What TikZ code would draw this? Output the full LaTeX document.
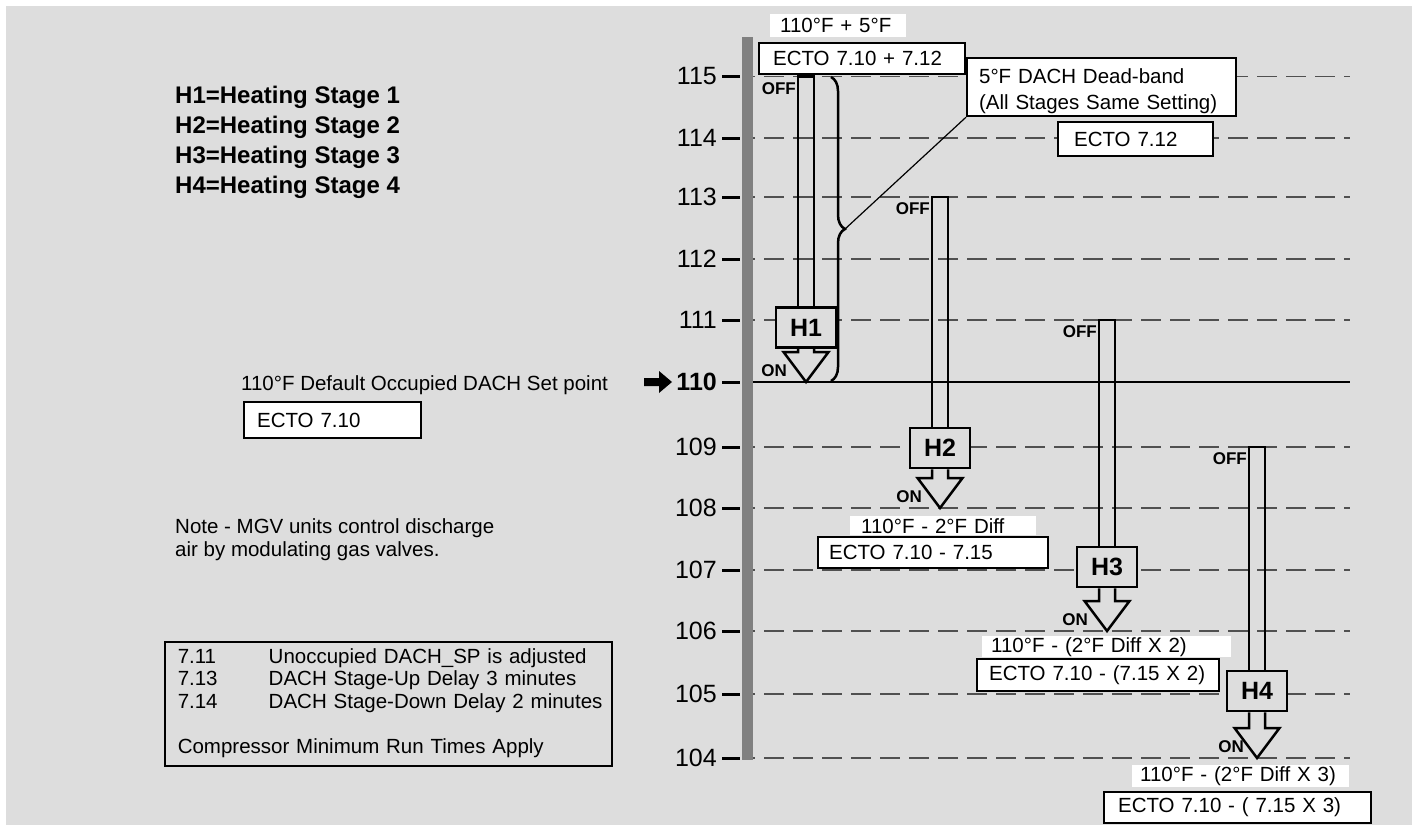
\documentclass[tikz,border=0pt]{standalone}
\usepackage{fontspec}
\setmainfont{Liberation Sans}
\usetikzlibrary{decorations.pathreplacing,calc}
\definecolor{bgc}{HTML}{DDDDDD}
\definecolor{barc}{HTML}{808080}
\definecolor{dashc}{HTML}{505050}
\newcommand\mylbl{\fontsize{20.5}{26}\selectfont}
\newcommand\myleg{\fontsize{24}{28}\selectfont\bfseries}
\newcommand\mytick{\fontsize{25}{28}\selectfont}
\newcommand\myhb{\fontsize{25}{28}\selectfont\bfseries}
\newcommand\myon{\fontsize{17}{20}\selectfont\bfseries}
\begin{document}
\begin{tikzpicture}[x=1pt,y=-1pt,
 lbl/.style={font=\mylbl, inner sep=0pt, anchor=base west},
 ecto/.style={draw=black, line width=2.2pt, fill=white, font=\mylbl, inner ysep=0pt, align=left, anchor=north west},
 wlbl/.style={fill=white, font=\mylbl, inner ysep=0pt, align=left, anchor=north west},
 hbox/.style={draw=black, line width=2.5pt, fill=bgc, font=\myhb, minimum width=60pt, minimum height=40pt, inner sep=0pt},
 arr/.style={draw=black, line width=2.5pt, line join=miter},
 onoff/.style={font=\myon, inner sep=0pt, anchor=east},
 tickl/.style={font=\mytick, inner sep=0pt, anchor=east},
 tickm/.style={line width=3pt, black},
 gridl/.style={dashc, line width=1.3pt, dash pattern=on 20pt off 9pt, dash phase=18pt},
 brc/.style={decorate, decoration={brace, amplitude=14pt, aspect=0.5}, line width=2.5pt},
 leader/.style={line width=1.2pt},
]
\useasboundingbox (0,0) rectangle (1418,830);
\fill[white] (0,0) rectangle (1418,830);
\fill[bgc] (6,6) rectangle (1412,825);

% grid lines
\foreach \v/\y in {115/76.5,114/138,113/197,112/259,111/320,109/447,108/508,107/570,106/631,105/694,104/758}{
  \draw[gridl] (753,\y) -- (1350,\y);
}
\draw[line width=2pt] (753,382) -- (1350,382);

% axis bar
\fill[barc] (742,37) rectangle (753,760);

% ticks and labels
\foreach \v/\y in {115/76.5,114/138,113/197,112/259,111/320,109/447,108/508,107/570,106/631,105/694,104/758}{
  \draw[tickm] (722,\y) -- (740,\y);
  \node[tickl] (lv\v) at (717,\y) {\v};
}
\draw[tickm] (722,382) -- (740,382);
\node[tickl, font=\mytick\bfseries] (lv110) at (717,382) {110};
\fill (644,378) -- (659,378) -- (659,371) -- (672,382) -- (659,393) -- (659,386) -- (644,386) -- cycle;

% legend
\node[lbl, font=\myleg] (leg1) at (175,103.6) {H1=Heating Stage 1};
\node[lbl, font=\myleg] (leg2) at (175,133.6) {H2=Heating Stage 2};
\node[lbl, font=\myleg] (leg3) at (175,163.6) {H3=Heating Stage 3};
\node[lbl, font=\myleg] (leg4) at (175,193.6) {H4=Heating Stage 4};

\node[lbl] (setpt) at (241,390.3) {110°F Default Occupied DACH Set point};
\node[ecto, inner xsep=13pt, text width=151pt, minimum height=36pt] (e710) at (243,401) {ECTO 7.10};

\node[lbl] (note1) at (175,533.3) {Note - MGV units control discharge};
\node[lbl] (note2) at (175,556.3) {air by modulating gas valves.};

\node[draw, line width=1.5pt, anchor=north west, inner xsep=13pt, inner ysep=0pt, text width=421pt, minimum height=124pt, align=left, font=\fontsize{20.5}{22.5}\selectfont] (notes) at (164,641)
 {\begin{tabular}{@{}p{91pt}@{}l@{}}7.11 & Unoccupied DACH\_SP is adjusted\\7.13 & DACH Stage-Up Delay 3 minutes\\7.14 & DACH Stage-Down Delay 2 minutes\\[22.5pt]\multicolumn{2}{@{}l@{}}{Compressor Minimum Run Times Apply}\end{tabular}};

% top labels
\node[wlbl, inner xsep=10pt, text width=116pt, minimum height=23pt] (w5f) at (770,14) {110°F + 5°F};
\node[ecto, inner xsep=14pt, text width=178pt, minimum height=31pt] (e1012) at (758,42) {ECTO 7.10 + 7.12};
\node[ecto, inner xsep=12pt, text width=245pt, minimum height=58pt] (deadband) at (966,57) {\rule{0pt}{23pt}5°F DACH Dead-band\\(All Stages Same Setting)};
\node[ecto, inner xsep=16pt, text width=123pt, minimum height=34pt] (e712) at (1057,121) {ECTO 7.12};

% lower labels
\node[wlbl, inner xsep=11pt, text width=164pt, minimum height=19pt] (w2f) at (850,516) {110°F - 2°F Diff};
\node[ecto, inner xsep=11pt, text width=208pt, minimum height=31pt] (e715) at (817,536) {ECTO 7.10 - 7.15};
\node[wlbl, inner xsep=9pt, text width=231pt, minimum height=21pt] (w2f2) at (982,636) {110°F - (2°F Diff X 2)};
\node[ecto, inner xsep=12pt, text width=218pt, minimum height=32pt] (e7152) at (976,658) {ECTO 7.10 - (7.15 X 2)};
\node[wlbl, inner xsep=8pt, text width=201pt, minimum height=22pt] (w2f3) at (1132,765) {110°F - (2°F Diff X 3)};
\node[ecto, inner xsep=14pt, text width=239pt, minimum height=31pt] (e7153) at (1103,791) {ECTO 7.10 - ( 7.15 X 3)};

% brace and leader
\draw[brc] (831,77) -- (831,381);
\coordinate (bracetip) at (845,229);
\draw[leader] (bracetip) -- (deadband.south west);

% stage arrows
\foreach \n/\c/\t/\b/\p/\o in {1/806/76.5/327.5/382/19, 2/940/197/448/508/18, 3/1107/320/567/631/19, 4/1257/447/691/758/13}{
  \coordinate (top\n) at (\c,\t);
  \coordinate (tip\n) at (\c,\p);
  \node[hbox] (h\n) at (\c,\b) {H\n};
  \draw[arr] ([xshift=-8pt]h\n.north) -- ([xshift=-8pt]top\n) -- ([xshift=8pt]top\n) -- ([xshift=8pt]h\n.north);
  \draw[arr] ([xshift=-8pt]h\n.south) -- (\c-8,\p-30) -- (\c-22.5,\p-30) -- (tip\n) -- (\c+22.5,\p-30) -- (\c+8,\p-30) -- ([xshift=8pt]h\n.south);
  \node[onoff] (off\n) at (\c-10,\t+12) {OFF};
  \node[onoff] (on\n) at (\c-\o,\p-11) {ON};
}
\end{tikzpicture}
\end{document}
